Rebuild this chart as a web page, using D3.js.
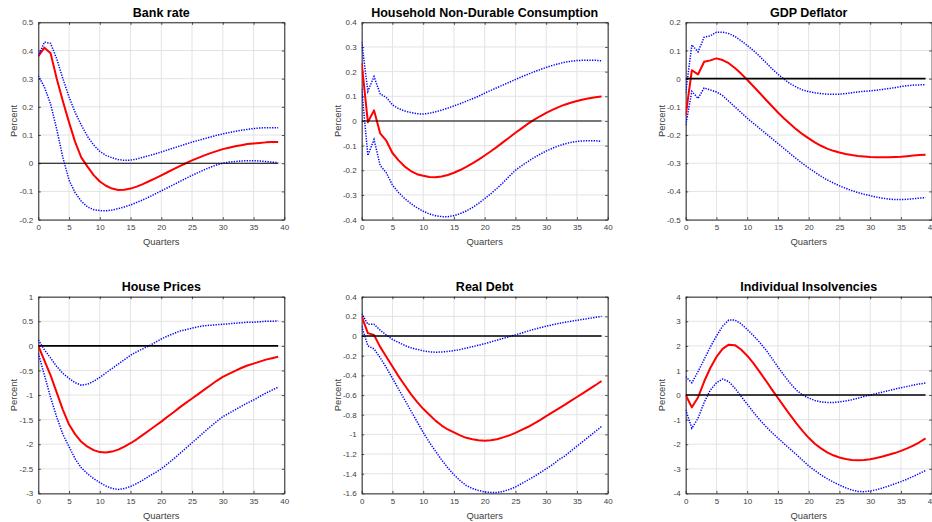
<!DOCTYPE html>
<html>
<head>
<meta charset="utf-8">
<script src="https://cdn.jsdelivr.net/npm/d3@7"></script>
<style>
  html, body { margin: 0; padding: 0; background: #fff; }
  svg { display: block; }
  text { font-family: "Liberation Sans", Arial, Helvetica, sans-serif; }
</style>
</head>
<body>
<svg id="chart" width="932" height="522"></svg>
<script>
// ---------- Data ----------
const quarters = d3.range(0, 40);
const xTicks = [0, 5, 10, 15, 20, 25, 30, 35, 40];
const xLabel = "Quarters";
const yLabel = "Percent";
const titles = ["Bank rate", "Household Non-Durable Consumption", "GDP Deflator",
                "House Prices", "Real Debt", "Individual Insolvencies"];

const yDomains = [[-0.2, 0.5], [-0.4, 0.4], [-0.5, 0.2], [-3, 1], [-1.6, 0.4], [-4, 4]];
const yTicks = [
  [-0.2, -0.1, 0, 0.1, 0.2, 0.3, 0.4, 0.5],
  [-0.4, -0.3, -0.2, -0.1, 0, 0.1, 0.2, 0.3, 0.4],
  [-0.5, -0.4, -0.3, -0.2, -0.1, 0, 0.1, 0.2],
  [-3, -2.5, -2, -1.5, -1, -0.5, 0, 0.5, 1],
  [-1.6, -1.4, -1.2, -1, -0.8, -0.6, -0.4, -0.2, 0, 0.2, 0.4],
  [-4, -3, -2, -1, 0, 1, 2, 3, 4]
];

// Bank rate
const bankMean = [0.38,0.41,0.39,0.30,0.22,0.145,0.075,0.02,-0.012,-0.042,-0.065,-0.08,-0.09,-0.095,-0.094,-0.09,-0.083,-0.074,-0.064,-0.054,-0.043,-0.032,-0.021,-0.01,0.0,0.01,0.019,0.028,0.036,0.043,0.05,0.055,0.06,0.064,0.068,0.07,0.072,0.074,0.075,0.075];
const bankUpper = [0.38,0.43,0.425,0.37,0.30,0.235,0.18,0.135,0.095,0.065,0.042,0.028,0.019,0.013,0.01,0.011,0.015,0.021,0.027,0.033,0.04,0.047,0.054,0.061,0.068,0.075,0.081,0.087,0.093,0.099,0.104,0.109,0.113,0.117,0.12,0.123,0.125,0.126,0.126,0.126];
const bankLower = [0.31,0.27,0.21,0.12,0.02,-0.06,-0.105,-0.135,-0.155,-0.165,-0.168,-0.169,-0.166,-0.161,-0.155,-0.148,-0.139,-0.13,-0.12,-0.109,-0.098,-0.087,-0.076,-0.065,-0.054,-0.043,-0.033,-0.023,-0.014,-0.006,0.0,0.004,0.006,0.008,0.009,0.009,0.008,0.006,0.004,0.002];

// Household non-durable consumption
const consMean = [0.235,-0.005,0.043,-0.05,-0.08,-0.13,-0.16,-0.185,-0.203,-0.216,-0.222,-0.227,-0.228,-0.225,-0.219,-0.21,-0.199,-0.186,-0.172,-0.157,-0.14,-0.123,-0.105,-0.086,-0.067,-0.048,-0.03,-0.012,0.004,0.019,0.033,0.045,0.056,0.066,0.074,0.081,0.087,0.092,0.096,0.099];
const consUpper = [0.32,0.12,0.18,0.11,0.095,0.065,0.05,0.04,0.034,0.029,0.028,0.031,0.037,0.044,0.052,0.061,0.07,0.08,0.09,0.1,0.113,0.124,0.135,0.146,0.157,0.168,0.179,0.189,0.199,0.208,0.217,0.225,0.232,0.238,0.242,0.245,0.246,0.246,0.246,0.244];
const consLower = [0.13,-0.14,-0.075,-0.18,-0.21,-0.26,-0.29,-0.315,-0.335,-0.352,-0.366,-0.377,-0.384,-0.388,-0.388,-0.384,-0.376,-0.365,-0.351,-0.334,-0.315,-0.295,-0.273,-0.25,-0.224,-0.2,-0.182,-0.165,-0.149,-0.135,-0.122,-0.111,-0.101,-0.093,-0.087,-0.083,-0.081,-0.08,-0.08,-0.083];

// GDP deflator
const gdpMean = [-0.13,0.03,0.015,0.06,0.065,0.072,0.066,0.055,0.038,0.018,-0.004,-0.027,-0.05,-0.074,-0.097,-0.12,-0.141,-0.161,-0.18,-0.197,-0.212,-0.226,-0.238,-0.248,-0.256,-0.262,-0.267,-0.271,-0.274,-0.276,-0.278,-0.279,-0.279,-0.279,-0.278,-0.277,-0.275,-0.273,-0.271,-0.27];
const gdpUpper = [-0.05,0.12,0.095,0.147,0.152,0.165,0.165,0.16,0.15,0.135,0.118,0.1,0.08,0.058,0.036,0.016,-0.002,-0.018,-0.03,-0.04,-0.046,-0.05,-0.053,-0.055,-0.055,-0.055,-0.053,-0.05,-0.047,-0.045,-0.043,-0.041,-0.038,-0.035,-0.032,-0.028,-0.025,-0.023,-0.022,-0.022];
const gdpLower = [-0.165,-0.045,-0.07,-0.033,-0.04,-0.047,-0.06,-0.08,-0.1,-0.12,-0.14,-0.158,-0.176,-0.194,-0.212,-0.23,-0.248,-0.266,-0.284,-0.301,-0.317,-0.332,-0.346,-0.359,-0.37,-0.38,-0.389,-0.397,-0.404,-0.41,-0.415,-0.42,-0.424,-0.427,-0.429,-0.429,-0.428,-0.426,-0.424,-0.422];

// House prices
const houseMean = [0.0,-0.3,-0.6,-0.95,-1.3,-1.6,-1.8,-1.95,-2.05,-2.12,-2.16,-2.17,-2.15,-2.11,-2.05,-1.98,-1.9,-1.81,-1.72,-1.63,-1.54,-1.44,-1.35,-1.25,-1.16,-1.07,-0.98,-0.89,-0.8,-0.71,-0.63,-0.57,-0.51,-0.45,-0.4,-0.36,-0.32,-0.28,-0.25,-0.22];
const houseUpper = [0.12,-0.08,-0.25,-0.42,-0.56,-0.66,-0.75,-0.8,-0.78,-0.72,-0.64,-0.55,-0.46,-0.37,-0.28,-0.19,-0.12,-0.06,0.0,0.07,0.14,0.2,0.25,0.3,0.33,0.36,0.39,0.41,0.42,0.43,0.44,0.45,0.46,0.47,0.48,0.48,0.49,0.5,0.5,0.51];
const houseLower = [-0.15,-0.6,-1.05,-1.45,-1.8,-2.05,-2.3,-2.48,-2.6,-2.7,-2.78,-2.85,-2.9,-2.92,-2.9,-2.86,-2.8,-2.73,-2.65,-2.58,-2.5,-2.4,-2.3,-2.19,-2.08,-1.97,-1.86,-1.75,-1.64,-1.54,-1.44,-1.37,-1.3,-1.23,-1.16,-1.1,-1.03,-0.96,-0.9,-0.84];

// Real debt
const debtMean = [0.2,0.03,0.01,-0.11,-0.21,-0.31,-0.41,-0.5,-0.59,-0.67,-0.74,-0.8,-0.86,-0.91,-0.95,-0.98,-1.01,-1.035,-1.05,-1.06,-1.065,-1.06,-1.05,-1.03,-1.01,-0.985,-0.955,-0.925,-0.89,-0.855,-0.815,-0.777,-0.738,-0.7,-0.66,-0.62,-0.58,-0.54,-0.5,-0.457];
const debtUpper = [0.23,0.12,0.12,0.06,0.01,-0.035,-0.065,-0.095,-0.12,-0.135,-0.15,-0.16,-0.165,-0.162,-0.157,-0.148,-0.137,-0.123,-0.108,-0.093,-0.078,-0.06,-0.042,-0.024,-0.006,0.012,0.03,0.05,0.068,0.085,0.1,0.114,0.127,0.14,0.15,0.16,0.17,0.18,0.19,0.2];
const debtLower = [0.1,-0.1,-0.13,-0.22,-0.32,-0.43,-0.54,-0.65,-0.76,-0.87,-0.98,-1.08,-1.17,-1.26,-1.34,-1.41,-1.47,-1.52,-1.55,-1.57,-1.585,-1.59,-1.59,-1.58,-1.56,-1.535,-1.5,-1.465,-1.43,-1.39,-1.35,-1.31,-1.26,-1.22,-1.17,-1.12,-1.07,-1.02,-0.97,-0.92];

// Individual insolvencies
const insolMean = [0.0,-0.5,-0.1,0.55,1.1,1.55,1.88,2.05,2.03,1.85,1.6,1.3,0.95,0.6,0.23,-0.12,-0.47,-0.82,-1.15,-1.46,-1.74,-1.98,-2.17,-2.33,-2.45,-2.54,-2.6,-2.64,-2.65,-2.64,-2.61,-2.56,-2.5,-2.43,-2.36,-2.27,-2.17,-2.06,-1.92,-1.76];
const insolUpper = [0.75,0.5,0.95,1.45,1.95,2.4,2.8,3.05,3.05,2.9,2.67,2.42,2.15,1.85,1.5,1.14,0.8,0.48,0.2,0.0,-0.12,-0.22,-0.28,-0.3,-0.3,-0.28,-0.24,-0.19,-0.13,-0.06,0.0,0.06,0.12,0.18,0.24,0.3,0.35,0.4,0.45,0.49];
const insolLower = [-0.6,-1.35,-0.95,-0.3,0.2,0.5,0.65,0.55,0.28,-0.05,-0.37,-0.7,-1.0,-1.27,-1.52,-1.75,-1.98,-2.2,-2.42,-2.65,-2.88,-3.07,-3.25,-3.4,-3.54,-3.66,-3.77,-3.86,-3.92,-3.93,-3.9,-3.85,-3.78,-3.7,-3.61,-3.52,-3.42,-3.31,-3.19,-3.07];

const means = [bankMean, consMean, gdpMean, houseMean, debtMean, insolMean];
const uppers = [bankUpper, consUpper, gdpUpper, houseUpper, debtUpper, insolUpper];
const lowers = [bankLower, consLower, gdpLower, houseLower, debtLower, insolLower];

// ---------- Layout ----------
const colX = [[38.3, 284.3], [361.7, 607.7], [685.7, 931.7]];
const rowY = [[22.3, 219.6], [296.7, 493.4]];
const zeroWidths = [1.1, 1.1, 1.8, 1.8, 1.4, 1.4];

const svg = d3.select("#chart");
const axisColor = "#262626";
const labelColor = "#404040";

titles.forEach((title, i) => {
  const [x0, x1] = colX[i % 3];
  const [y0, y1] = rowY[Math.floor(i / 3)];
  const x = d3.scaleLinear().domain([0, 40]).range([x0, x1]);
  const y = d3.scaleLinear().domain(yDomains[i]).range([y1, y0]);
  const g = svg.append("g");

  // grid
  g.append("g").selectAll("line").data(xTicks).join("line")
    .attr("x1", d => x(d)).attr("x2", d => x(d))
    .attr("y1", y0).attr("y2", y1)
    .attr("stroke", "#e3e3e3").attr("stroke-width", 1);
  g.append("g").selectAll("line").data(yTicks[i]).join("line")
    .attr("x1", x0).attr("x2", x1)
    .attr("y1", d => y(d)).attr("y2", d => y(d))
    .attr("stroke", "#e3e3e3").attr("stroke-width", 1);

  // axes (ticks inside), box on all sides
  const tickLen = 2.5;
  const ax = g.append("g");
  ax.append("g").attr("transform", `translate(0,${y1})`)
    .call(d3.axisBottom(x).tickValues(xTicks).tickSizeInner(-tickLen).tickSizeOuter(0).tickPadding(5).tickFormat(d3.format("d")));
  ax.append("g").attr("transform", `translate(0,${y0})`)
    .call(d3.axisTop(x).tickValues(xTicks).tickSizeInner(-tickLen).tickSizeOuter(0).tickFormat(""));
  ax.append("g").attr("transform", `translate(${x0},0)`)
    .call(d3.axisLeft(y).tickValues(yTicks[i]).tickSizeInner(-tickLen).tickSizeOuter(0).tickPadding(5).tickFormat(d => String(+d.toFixed(2))));
  ax.append("g").attr("transform", `translate(${x1},0)`)
    .call(d3.axisRight(y).tickValues(yTicks[i]).tickSizeInner(-tickLen).tickSizeOuter(0).tickFormat(""));
  ax.selectAll(".domain").attr("stroke", axisColor).attr("stroke-width", 1);
  ax.selectAll(".tick line").attr("stroke", axisColor).attr("stroke-width", 0.8);
  ax.selectAll(".tick text").attr("fill", labelColor)
    .style("font-size", "8px").style("font-family", '"Liberation Sans", Arial, sans-serif');

  // clip for the data
  const clipId = "clip" + i;
  svg.append("clipPath").attr("id", clipId).append("rect")
    .attr("x", x0).attr("y", y0 - 1).attr("width", x1 - x0).attr("height", y1 - y0 + 2);
  const plot = g.append("g").attr("clip-path", `url(#${clipId})`);

  const line = d3.line().x((d, k) => x(quarters[k])).y(d => y(d));

  plot.append("path").datum(means[i]).attr("d", line)
    .attr("fill", "none").attr("stroke", "#ff0000").attr("stroke-width", 2)
    .attr("stroke-linejoin", "round");
  [uppers[i], lowers[i]].forEach(band => {
    plot.append("path").datum(band).attr("d", line)
      .attr("fill", "none").attr("stroke", "#0000ff").attr("stroke-width", 1.5)
      .attr("stroke-dasharray", "1.3,1.3");
  });
  plot.append("path").datum(quarters.map(() => 0)).attr("d", line)
    .attr("fill", "none").attr("stroke", "#000").attr("stroke-width", zeroWidths[i]);

  // title
  g.append("text").attr("x", (x0 + x1) / 2).attr("y", y0 - 5.5)
    .attr("text-anchor", "middle").style("font-size", "12.5px").style("font-weight", "bold")
    .attr("fill", "#000").text(title);
  // x label
  g.append("text").attr("x", (x0 + x1) / 2).attr("y", y1 + 25.5)
    .attr("text-anchor", "middle").style("font-size", "9.4px").attr("fill", labelColor).text(xLabel);
  // y label
  g.append("text").attr("transform", `translate(${x0 - 21},${(y0 + y1) / 2}) rotate(-90)`)
    .attr("text-anchor", "middle").style("font-size", "9.4px").attr("fill", labelColor).text(yLabel);
});
</script>
</body>
</html>
